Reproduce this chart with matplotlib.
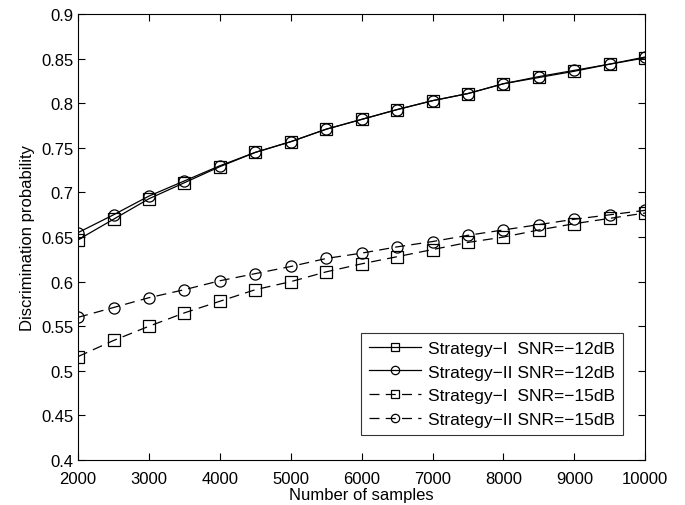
import matplotlib
matplotlib.use("Agg")
import matplotlib.pyplot as plt
import numpy as np

plt.rcParams['font.family'] = ['Liberation Sans', 'DejaVu Sans']

samples = list(range(2000, 10001, 500))
s1_12 = [0.647, 0.670, 0.693, 0.711, 0.729, 0.745, 0.757, 0.771, 0.782, 0.793, 0.803, 0.811, 0.822, 0.829, 0.836, 0.844, 0.851]
s2_12 = [0.655, 0.675, 0.696, 0.713, 0.730, 0.745, 0.757, 0.771, 0.782, 0.793, 0.803, 0.811, 0.822, 0.830, 0.837, 0.844, 0.852]
s1_15 = [0.516, 0.534, 0.550, 0.565, 0.578, 0.591, 0.600, 0.611, 0.620, 0.628, 0.636, 0.644, 0.650, 0.658, 0.665, 0.671, 0.677]
s2_15 = [0.560, 0.571, 0.582, 0.591, 0.601, 0.609, 0.617, 0.626, 0.632, 0.639, 0.645, 0.652, 0.658, 0.664, 0.670, 0.675, 0.680]
labels = ['Strategy\u2212I  SNR=\u221212dB', 'Strategy\u2212II SNR=\u221212dB',
          'Strategy\u2212I  SNR=\u221215dB', 'Strategy\u2212II SNR=\u221215dB']

fig = plt.figure(figsize=(6.85, 5.06), dpi=100)
ax = fig.add_axes([0.114, 0.089, 0.828, 0.881])

mk = dict(markersize=8, markerfacecolor='none', markeredgecolor='black', markeredgewidth=0.9, color='black', linewidth=0.9)
ax.plot(samples, s1_12, '-', marker='s', label=labels[0], **mk)
ax.plot(samples, s2_12, '-', marker='o', label=labels[1], **mk)
ax.plot(samples, s1_15, marker='s', linestyle=(0, (8, 5)), label=labels[2], **mk)
ax.plot(samples, s2_15, marker='o', linestyle=(0, (8, 5)), label=labels[3], **mk)

ax.set_xlim(2000, 10000)
ax.set_ylim(0.4, 0.9)
ax.set_xticks(range(2000, 10001, 1000))
ax.set_yticks(np.arange(0.4, 0.901, 0.05))
ax.set_yticklabels(['0.4', '0.45', '0.5', '0.55', '0.6', '0.65', '0.7', '0.75', '0.8', '0.85', '0.9'])
ax.tick_params(direction='in', top=True, right=True, labelsize=12, length=5, width=0.8)
ax.tick_params(axis='x', pad=8)
for s in ax.spines.values():
    s.set_linewidth(0.8)
ax.set_xlabel('Number of samples', fontsize=12, labelpad=1)
ax.set_ylabel('Discrimination probability', fontsize=12)

leg = ax.legend(loc='lower right', bbox_to_anchor=(0.961, 0.056), fontsize=12.5, frameon=True,
                fancybox=False, edgecolor='black', handlelength=3, borderpad=0.45, labelspacing=0.5,
                markerscale=0.75, handletextpad=0.4, borderaxespad=0)
leg.get_frame().set_linewidth(0.8)

fig.savefig('out.png', dpi=100)
